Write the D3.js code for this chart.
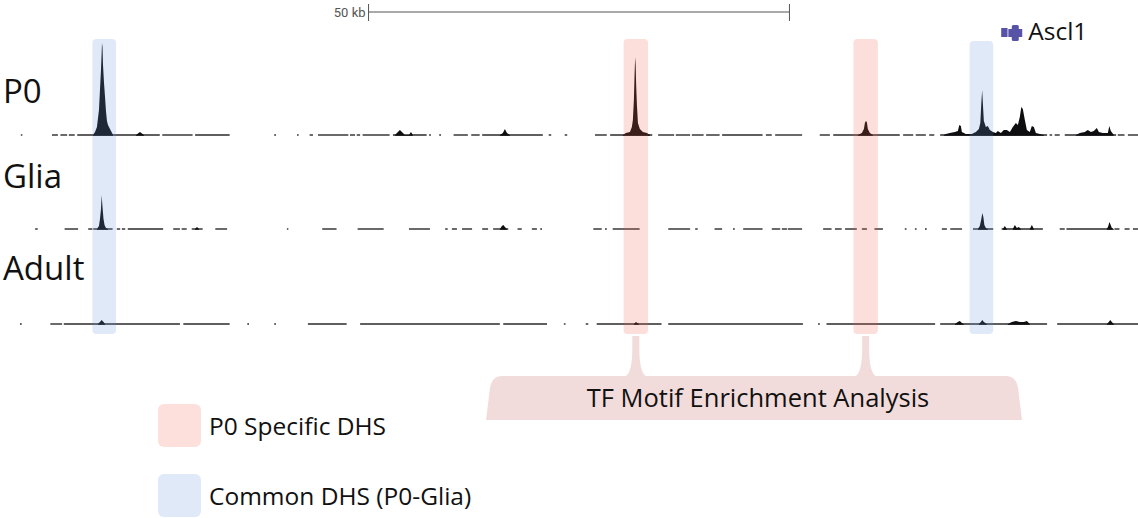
<!DOCTYPE html>
<html>
<head>
<meta charset="utf-8">
<script src="https://cdn.jsdelivr.net/npm/d3@7"></script>
<style>
  body { margin: 0; background: #fff; }
  svg { display: block; font-family: "Open Sans", Lato, sans-serif; }
</style>
</head>
<body>
<div id="chart"></div>
<script>
// genomic positions in kb (relative to the left edge of the window)
var tracks = ["P0", "Glia", "Adult"]

// covered stretches of each track (kb start, kb end)
var p0Coverage = [[0.1,0.2],[3.8,4.5],[4.8,5.6],[5.8,6.5],[6.8,16.6],[16.9,20.5],[20.8,24.9],[30.2,30.4],[32.9,33.1],
  [34.4,34.8],[35.4,39.0],[39.2,39.8],[40.0,40.4],[40.7,43.9],[44.3,48.3],[48.6,48.8],[49.8,50.0],[51.5,53.2],[53.6,54.6],
  [54.9,62.1],[62.8,63.1],[64.7,65.0],[68.3,69.7],[70.1,75.1],[75.8,77.7],[77.9,79.6],[79.8,81.2],[81.5,83.1],[83.4,88.2],
  [88.6,89.3],[89.7,92.9],[95.0,96.2],[96.6,104.5],[104.9,106.1],[106.4,107.6],[108.0,108.6],[109.3,122.0],[122.3,122.6],
  [122.9,123.5],[124.1,130.2],[130.4,131.2],[131.6,132.8]]
var gliaCoverage = [[1.8,2.1],[5.3,6.9],[8.1,8.6],[8.7,11.0],[11.5,11.9],[12.1,12.5],[12.8,17.0],[18.2,19.0],[19.2,19.8],
  [20.4,21.7],[23.2,24.6],[31.7,31.8],[35.9,37.6],[40.1,43.2],[46.2,48.7],[50.5,50.8],[51.3,51.9],[52.5,53.7],[54.9,55.6],
  [56.2,58.0],[59.1,59.6],[60.8,61.4],[61.8,62.0],[68.1,69.1],[69.5,69.7],[70.4,73.6],[77.0,79.6],[80.2,80.5],[82.5,83.4],
  [84.7,84.9],[85.9,88.2],[89.3,90.3],[90.5,91.1],[91.2,92.9],[95.4,96.4],[96.8,97.6],[98.0,99.4],[100.0,100.6],[101.5,102.5],
  [105.1,105.3],[106.3,106.5],[107.5,107.7],[109.5,110.1],[110.5,111.9],[113.2,115.6],[116.6,121.5],[123.5,124.1],[124.3,129.8],
  [130.0,130.6],[131.2,131.8],[132.2,132.8]]
var adultCoverage = [[0.0,0.2],[3.6,5.0],[5.2,19.0],[19.4,24.9],[27.0,27.2],[30.2,30.4],[34.2,38.8],[40.4,57.0],[57.4,62.6],
  [64.6,64.8],[67.2,67.5],[68.5,76.2],[77.0,93.0],[94.8,95.0],[95.8,108.7],[109.3,122.0],[123.2,132.8]]

// accessibility signal, one list of [kb, value] per peak
var p0Peaks = [
  [[8.67,0],[8.91,3],[9.14,8],[9.38,25],[9.50,45],[9.62,65],[9.69,80],[9.74,92],[9.80,88],[9.86,70],[9.98,52],[10.10,38],
   [10.21,24],[10.33,14],[10.45,10],[10.69,6],[10.93,2],[11.05,0]],
  [[13.78,0],[14.25,3],[14.73,0]],
  [[44.54,0],[44.89,3],[45.13,5],[45.37,3],[45.72,0],[46.20,0],[46.44,3],[46.67,0]],
  [[57.0,0],[57.36,2],[57.60,6],[57.84,2],[58.19,0]],
  [[71.62,0],[71.97,2],[72.45,3],[72.68,8],[72.80,15],[72.92,35],[73.0,60],[73.07,78],[73.13,70],[73.19,50],[73.28,30],
   [73.40,12],[73.63,6],[73.99,3],[74.47,2],[74.82,0]],
  [[99.52,0],[100.0,2],[100.24,6],[100.36,12],[100.48,14],[100.59,13],[100.71,6],[100.95,2],[101.31,0]],
  [[109.74,0],[109.98,1],[110.45,2],[111.05,3],[111.40,4],[111.58,10],[111.76,9],[111.88,3],[112.35,1],[113.06,1],[113.54,3],
   [113.90,6],[114.07,12],[114.19,32],[114.29,45],[114.37,32],[114.49,14],[114.73,8],[114.96,9],[115.20,5],[115.56,3],
   [115.91,2],[116.15,4],[116.51,2],[116.86,5],[117.22,5],[117.58,3],[117.93,8],[118.29,12],[118.53,10],[118.76,18],
   [118.94,28],[119.12,26],[119.36,15],[119.60,5],[119.95,3],[120.19,9],[120.43,8],[120.67,2],[121.14,1],[121.62,0]],
  [[125.42,0],[125.89,2],[126.48,3],[126.84,5],[127.20,3],[127.55,4],[127.91,7],[128.15,3],[128.62,2],[129.22,2],[129.39,9],
   [129.57,4],[129.93,0]]
]
var gliaPeaks = [
  [[9.14,0],[9.38,3],[9.50,10],[9.62,20],[9.70,34],[9.80,22],[9.92,10],[10.04,4],[10.21,1],[10.45,0]],
  [[20.78,0],[21.02,2],[21.26,0]],
  [[57.01,0],[57.24,3],[57.42,4],[57.60,2],[57.84,0]],
  [[113.78,0],[114.01,3],[114.19,10],[114.31,16],[114.43,12],[114.55,4],[114.73,1],[114.96,0]],
  [[116.75,0],[116.98,3],[117.22,0]],
  [[117.93,0],[118.17,4],[118.41,1],[118.65,2],[118.88,0]],
  [[119.95,0],[120.19,4],[120.43,0]],
  [[129.10,0],[129.28,3],[129.39,7],[129.51,5],[129.69,1],[129.93,0]]
]
var adultPeaks = [
  [[9.26,0],[9.50,2],[9.70,4],[9.92,2],[10.10,0]],
  [[72.92,0],[73.16,2],[73.52,0]],
  [[111.05,0],[111.40,2],[111.64,3],[111.88,1],[112.11,0]],
  [[113.90,0],[114.13,2],[114.31,4],[114.49,2],[114.85,0]],
  [[117.34,0],[117.81,2],[118.29,3],[118.76,2],[119.24,2],[119.60,3],[119.95,0]],
  [[129.10,0],[129.33,2],[129.51,4],[129.69,2],[129.93,0]]
]

// highlighted DHS regions
var regions = [
  {type: "common", start: 8.6, end: 11.4},
  {type: "p0", start: 71.7, end: 74.6},
  {type: "p0", start: 99.0, end: 101.9},
  {type: "common", start: 112.8, end: 115.6}
]
var legendLabels = ["P0 Specific DHS", "Common DHS (P0-Glia)"]
var geneName = "Ascl1"
var geneExons = [[116.55, 117.3], [117.4, 119.05]]
var scaleBar = [41.4, 91.4]

var width = 1138, height = 518

var svg = d3.select("#chart").append("svg")
  .attr("width", width)
  .attr("height", height)

var x = d3.scaleLinear().domain([0, 132.8]).range([20, 1138])

var baselines = {P0: 135, Glia: 229, Adult: 324}
var labelY = {P0: 103, Glia: 188, Adult: 280}
var coverage = {P0: p0Coverage, Glia: gliaCoverage, Adult: adultCoverage}
var peaks = {P0: p0Peaks, Glia: gliaPeaks, Adult: adultPeaks}

var regionColor = {p0: "rgb(240,90,70)", common: "rgb(95,145,215)"}
var legendColor = {p0: "#fde0dc", common: "#dfe9f7"}

// scale bar
var sb = svg.append("g")
sb.append("line").attr("x1", x(scaleBar[0])).attr("x2", x(scaleBar[1])).attr("y1", 12).attr("y2", 12)
  .attr("stroke", "#555").attr("stroke-width", 1)
scaleBar.forEach(function(d) {
  sb.append("line").attr("x1", x(d)).attr("x2", x(d)).attr("y1", 4).attr("y2", 21)
    .attr("stroke", "#555").attr("stroke-width", 1)
})
sb.append("text").attr("x", x(scaleBar[0]) - 3).attr("y", 17)
  .attr("text-anchor", "end")
  .style("font-family", "Roboto, sans-serif")
  .style("font-size", "13px").style("fill", "#555")
  .text("50 kb")

// gene model
var gene = svg.append("g").attr("fill", "#5753a6")
gene.append("rect").attr("x", x(geneExons[0][0])).attr("width", x(geneExons[0][1]) - x(geneExons[0][0]))
  .attr("y", 28).attr("height", 9)
gene.append("rect").attr("x", x(geneExons[1][0])).attr("width", x(geneExons[1][1]) - x(geneExons[1][0]))
  .attr("y", 29).attr("height", 8)
var mid = (geneExons[1][0] + geneExons[1][1]) / 2
gene.append("rect").attr("x", x(mid) - 3.5).attr("width", 7).attr("y", 25).attr("height", 16).attr("rx", 1.5)
svg.append("text").attr("x", x(geneExons[1][1]) + 6).attr("y", 40)
  .style("font-size", "24.5px").style("fill", "#111").text(geneName)

// tracks
tracks.forEach(function(t) {
  var y = d3.scaleLinear().domain([0, 100]).range([baselines[t], baselines[t] - 100])
  var g = svg.append("g")

  g.selectAll("line.cov").data(coverage[t]).enter().append("line")
    .attr("x1", function(d) { return x(d[0]) })
    .attr("x2", function(d) { return Math.max(x(d[1]), x(d[0]) + 1.5) })
    .attr("y1", y(0)).attr("y2", y(0))
    .attr("stroke", "#2a2a2a").attr("stroke-width", 1.4)

  var area = d3.area()
    .x(function(d) { return x(d[0]) })
    .y0(y(0) + 0.7)
    .y1(function(d) { return y(d[1]) })

  g.selectAll("path.peak").data(peaks[t]).enter().append("path")
    .attr("d", area)
    .attr("fill", "#0e0e10")

  svg.append("text").attr("x", 3).attr("y", labelY[t])
    .style("font-size", "33px").style("fill", "#111").text(t)
})

// highlight boxes over the tracks
svg.selectAll("rect.region").data(regions).enter().append("rect")
  .attr("x", function(d) { return x(d.start) })
  .attr("width", function(d) { return x(d.end) - x(d.start) })
  .attr("y", function(d) { return d.type == "common" && d.start > 100 ? 41 : 39 })
  .attr("height", function(d) { return d.type == "common" && d.start > 100 ? 293 : 295 })
  .attr("rx", 4)
  .attr("fill", function(d) { return regionColor[d.type] })
  .attr("opacity", 0.2)

// callout joining the P0 specific regions
var stems = regions.filter(function(d) { return d.type == "p0" }).map(function(d) { return x((d.start + d.end) / 2) })
var boxTop = 376, boxBottom = 420, boxLeft = 486, boxRight = 1022
var p = d3.path()
p.moveTo(boxLeft, boxBottom)
p.lineTo(boxLeft + 4, boxTop + 12)
p.quadraticCurveTo(boxLeft + 6, boxTop, boxLeft + 16, boxTop)
stems.forEach(function(cx) {
  p.lineTo(cx - 10, boxTop)
  p.quadraticCurveTo(cx - 3.5, boxTop - 4, cx - 3.5, boxTop - 28)
  p.lineTo(cx - 3.5, 336)
  p.lineTo(cx + 3.5, 336)
  p.lineTo(cx + 3.5, boxTop - 28)
  p.quadraticCurveTo(cx + 3.5, boxTop - 4, cx + 10, boxTop)
})
p.lineTo(boxRight - 16, boxTop)
p.quadraticCurveTo(boxRight - 6, boxTop, boxRight - 4, boxTop + 12)
p.lineTo(boxRight, boxBottom)
p.closePath()
svg.append("path").attr("d", p.toString()).attr("fill", "#f2dcdb")
svg.append("text").attr("x", (boxLeft + boxRight) / 2 + 4).attr("y", 407)
  .attr("text-anchor", "middle")
  .style("font-size", "25.5px").style("fill", "#111")
  .text("TF Motif Enrichment Analysis")

// legend
var legend = svg.selectAll("g.legend").data(["p0", "common"]).enter().append("g")
  .attr("transform", function(d, i) { return "translate(158," + (404 + i * 70) + ")" })
legend.append("rect").attr("width", 43).attr("height", 43).attr("rx", 6)
  .attr("fill", function(d) { return legendColor[d] })
legend.append("text").attr("x", 51).attr("y", 31)
  .style("font-size", "24.5px").style("fill", "#111")
  .text(function(d, i) { return legendLabels[i] })
</script>
</body>
</html>
